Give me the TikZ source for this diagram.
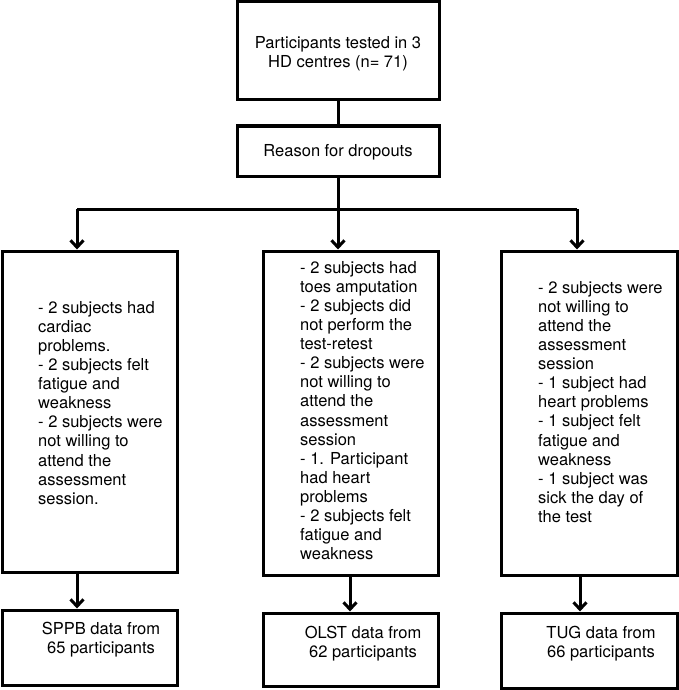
\documentclass[tikz,border=0pt]{standalone}
\usepackage{fontspec}
\setmainfont{TeX Gyre Heros}
\usetikzlibrary{arrows.meta}
\begin{document}
\begin{tikzpicture}[x=1pt,y=-1pt,
  box/.style={draw=black,line width=3pt,rectangle,inner sep=0pt},
  txt/.style={inner sep=0pt,font=\fontsize{16.5}{19.1}\selectfont},
  lst/.style={txt,align=left,anchor=north west},
  ctr/.style={txt,align=center},
  conn/.style={line width=3pt},
  arr/.style={line width=3pt,-{Straight Barb[length=7pt,width=13pt]}}]
\fill[white] (0,0) rectangle (678,690);
\useasboundingbox (0,0) rectangle (678,690);
% boxes
\node[box,minimum width=202pt,minimum height=98pt] (top) at (338,51) {};
\node[box,minimum width=202pt,minimum height=50pt] (reason) at (338,151) {};
\node[box,minimum width=175pt,minimum height=321pt] (b1) at (89.5,411.5) {};
\node[box,minimum width=175pt,minimum height=324pt] (b2) at (350.5,413) {};
\node[box,minimum width=176pt,minimum height=324pt] (b3) at (589,413) {};
\node[box,minimum width=175pt,minimum height=75pt] (d1) at (89.5,647.5) {};
\node[box,minimum width=175pt,minimum height=73pt] (d2) at (350.5,649.5) {};
\node[box,minimum width=176pt,minimum height=75pt] (d3) at (589,650.5) {};
% texts
\node[ctr] (ttop) at (338,54) {Participants tested in 3\\HD centres (n= 71)};
\node[ctr] (treason) at (338,152) {Reason for dropouts};
\node[lst] (t1) at (38,301) {- 2 subjects had\\cardiac\\problems.\\- 2 subjects felt\\fatigue and\\weakness\\- 2 subjects were\\not willing to\\attend the\\assessment\\session.};
\node[lst] (t2) at (300,261) {- 2 subjects had\\toes amputation\\- 2 subjects did\\not perform the\\test-retest\\- 2 subjects were\\not willing to\\attend the\\assessment\\session\\- 1. Participant\\had heart\\problems\\- 2 subjects felt\\fatigue and\\weakness};
\node[lst] (t3) at (538,281) {- 2 subjects were\\not willing to\\attend the\\assessment\\session\\- 1 subject had\\heart problems\\- 1 subject felt\\fatigue and\\weakness\\- 1 subject was\\sick the day of\\the test};
\node[ctr] (s1) at (101,640) {SPPB data from\\65 participants};
\node[ctr] (s2) at (363,644) {OLST data from\\62 participants};
\node[ctr] (s3) at (601,644) {TUG data from\\66 participants};
% connectors
\coordinate (jL) at (77,209);
\coordinate (jR) at (577,209);
\draw[conn] (top.south) -- (reason.north);
\draw[arr] (reason.south) -- (reason.south |- b2.north);
\draw[conn] (jL) -- (jR);
\draw[arr] (jL) -- (jL |- b1.north);
\draw[arr] (jR) -- (jR |- b3.north);
\coordinate (c1) at (77,0);
\coordinate (c2) at (350,0);
\coordinate (c3) at (580,0);
\draw[arr] (c1 |- b1.south) -- (c1 |- d1.north);
\draw[arr] (c2 |- b2.south) -- (c2 |- d2.north);
\draw[arr] (c3 |- b3.south) -- (c3 |- d3.north);
\end{tikzpicture}
\end{document}
